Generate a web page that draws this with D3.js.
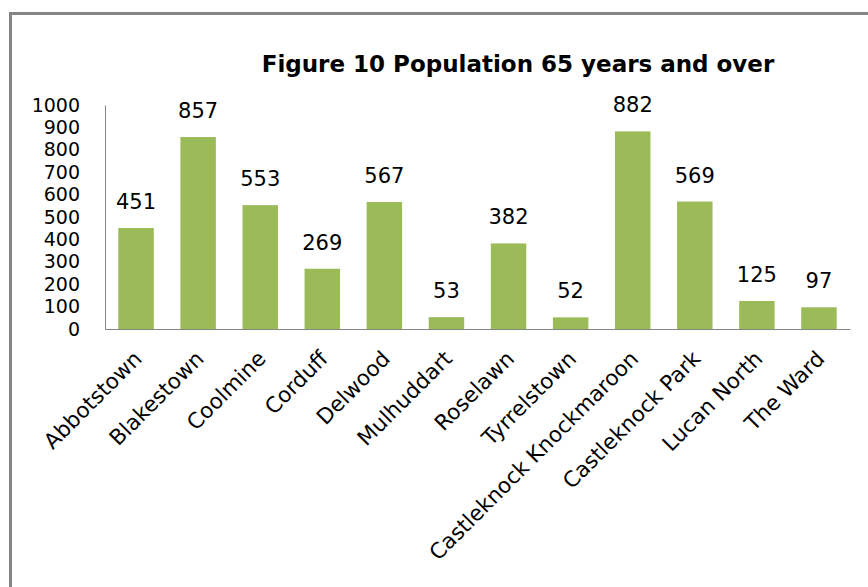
<!DOCTYPE html>
<html>
<head>
<meta charset="utf-8">
<script src="https://cdn.jsdelivr.net/npm/d3@7"></script>
<style>
  html, body { margin: 0; padding: 0; background: #fff; }
  svg { display: block; }
  text { font-family: "DejaVu Sans", sans-serif; fill: #000; }
</style>
</head>
<body>
<svg id="chart" width="868" height="587"></svg>
<script>
// Population aged 65 and over, by area
const categories = ["Abbotstown", "Blakestown", "Coolmine", "Corduff", "Delwood", "Mulhuddart",
  "Roselawn", "Tyrrelstown", "Castleknock Knockmaroon", "Castleknock Park", "Lucan North", "The Ward"];
const values = [451, 857, 553, 269, 567, 53, 382, 52, 882, 569, 125, 97];
const yTicks = [0, 100, 200, 300, 400, 500, 600, 700, 800, 900, 1000];
const title = "Figure 10 Population 65 years and over";

const FONT = "'DejaVu Sans', sans-serif";
const svg = d3.select("#chart");
const W = 868, H = 587;
const margin = { left: 105, right: 18, top: 105, bottom: 258 };

svg.append("rect").attr("width", W).attr("height", H).attr("fill", "#fff");

// outer chart frame
svg.append("rect")
  .attr("x", 10.5).attr("y", 13.5)
  .attr("width", W + 20).attr("height", H + 20)
  .attr("fill", "none").attr("stroke", "#868686").attr("stroke-width", 3);

const x = d3.scaleBand()
  .domain(categories)
  .range([margin.left, W - margin.right])
  .paddingInner(0.75 / 1.75)
  .paddingOuter(0.75 / 1.75 / 2);

const y = d3.scaleLinear().domain([0, 1000]).range([H - margin.bottom, margin.top]);

// title
svg.append("text")
  .attr("x", 518).attr("y", 72)
  .attr("text-anchor", "middle")
  .attr("font-weight", "bold")
  .attr("font-size", 23)
  .text(title);

// y axis
const yAxis = d3.axisLeft(y).tickValues(yTicks).tickSize(0).tickPadding(25).tickFormat(d3.format("d"));
const gy = svg.append("g").attr("transform", `translate(${margin.left},0)`).call(yAxis);
gy.select(".domain").attr("stroke", "#868686");
gy.selectAll("text").attr("font-size", 19).style("font-family", FONT).attr("fill", "#000");

// bars
svg.append("g").selectAll("rect")
  .data(categories)
  .join("rect")
  .attr("x", d => x(d))
  .attr("width", x.bandwidth())
  .attr("y", (d, i) => y(values[i]))
  .attr("height", (d, i) => y(0) - y(values[i]))
  .attr("fill", "#9BBB59");

// value labels
svg.append("g").selectAll("text")
  .data(categories)
  .join("text")
  .attr("x", d => x(d) + x.bandwidth() / 2)
  .attr("y", (d, i) => y(values[i]) - 19)
  .attr("text-anchor", "middle")
  .attr("font-size", 21)
  .text((d, i) => values[i]);

// x axis
const xAxis = d3.axisBottom(x).tickSize(0).tickPadding(0);
const gx = svg.append("g").attr("transform", `translate(0,${y(0)})`).call(xAxis);
gx.select(".domain").attr("stroke", "#868686");
gx.selectAll("text")
  .attr("font-size", 21.5)
  .style("font-family", FONT)
  .attr("fill", "#000")
  .attr("text-anchor", "end")
  .attr("dy", null)
  .attr("transform", "translate(7,31) rotate(-45)");
</script>
</body>
</html>
